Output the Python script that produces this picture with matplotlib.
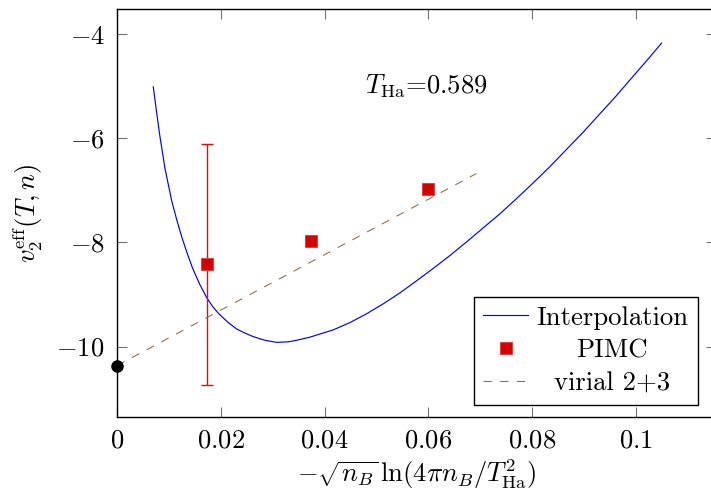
import numpy as np
import matplotlib
matplotlib.use("Agg")
import matplotlib.pyplot as plt

plt.rcParams["font.family"] = "serif"
plt.rcParams["font.serif"] = ["cmr10"]
plt.rcParams["mathtext.fontset"] = "cm"
plt.rcParams["axes.formatter.use_mathtext"] = True
plt.rcParams["axes.unicode_minus"] = True

# ---------------------------------------------------------------------------
# Data
# ---------------------------------------------------------------------------
interp_x = [0.00696, 0.00760, 0.00825, 0.00922, 0.01051, 0.01150, 0.01244,
            0.01350, 0.01456, 0.01590, 0.01726, 0.01840, 0.01950, 0.02130,
            0.02300, 0.02460, 0.02624, 0.02850, 0.03076, 0.03300, 0.03461,
            0.03718, 0.04167, 0.04490, 0.04811, 0.05130, 0.05453, 0.05770,
            0.06095, 0.06420, 0.06739, 0.07060, 0.07382, 0.07700, 0.08020,
            0.08340, 0.08660, 0.08980, 0.09300, 0.09620, 0.09940, 0.10220,
            0.10500]
interp_y = [-5.01, -5.50, -5.97, -6.58, -7.20, -7.57, -7.89,
            -8.21, -8.50, -8.80, -9.06, -9.23, -9.36, -9.53,
            -9.66, -9.74, -9.81, -9.88, -9.92, -9.91, -9.88,
            -9.82, -9.68, -9.54, -9.37, -9.18, -8.97, -8.74,
            -8.50, -8.25, -7.99, -7.72, -7.45, -7.16, -6.86,
            -6.55, -6.22, -5.89, -5.54, -5.19, -4.82, -4.50,
            -4.17]

pimc_x = [0.01725, 0.03731, 0.05987]
pimc_y = [-8.42, -7.975, -6.975]
err_x = [0.01725]
err_y = [-8.42]
err_size = [2.31]

virial_x = [0.0, 0.0693]
virial_y = [-10.365, -6.675]

dot_x = [0.0]
dot_y = [-10.365]

xticks = [0, 0.02, 0.04, 0.06, 0.08, 0.1]
xticklabels = ["0", "0.02", "0.04", "0.06", "0.08", "0.1"]
yticks = [-10, -8, -6, -4]

FS = 19.2

fig = plt.figure(figsize=(7.11, 4.95), dpi=100)
# right spine sits just outside the picture, as in the reference
ax = fig.add_axes([117.2 / 711, 1 - 417.3 / 495, (716 - 117.2) / 711, (417.3 - 9.3) / 495])

ax.plot(interp_x, interp_y, color="#0000ff", lw=0.85, label="Interpolation")
ax.errorbar(err_x, err_y, yerr=err_size, fmt="none", ecolor="#ff0000",
            elinewidth=1.0, capsize=4.5, capthick=1.0)
ax.plot(pimc_x, pimc_y, ls="none", marker="s", ms=8.2, mfc="#d20000",
        mec="#e84040", mew=0.8, label="PIMC")
ax.plot(virial_x, virial_y, color="#8c6a4a", lw=0.75, ls=(0, (8, 8)),
        label="virial 2+3")
ax.plot(dot_x, dot_y, ls="none", marker="o", ms=8, color="black",
        clip_on=False, zorder=5)

ax.set_xlim(0, 0.1155)
ax.set_ylim(-11.36, -3.52)
ax.set_xticks(xticks)
ax.set_xticklabels([r"$\mathdefault{%s}$" % t for t in xticklabels])
ax.set_yticks(yticks)
ax.tick_params(direction="in", length=7.5, width=0.8, color="0.45",
               top=True, right=True, labelsize=FS)
ax.tick_params(axis="x", pad=8)
ax.tick_params(axis="y", pad=9)
for s in ax.spines.values():
    s.set_linewidth(1.0)

ax.set_xlabel(r"$-\sqrt{n_B}\,\ln(4\pi n_B/T_{\rm Ha}^2)$", fontsize=FS, labelpad=4)
ax.set_ylabel(r"$v_2^{\rm eff}(T,n)$", fontsize=FS, labelpad=8)

ax.text(0.0597, -5.0, r"$T_{\rm Ha}$=0.589", fontsize=FS, ha="center", va="center")

leg = ax.legend(loc="lower right", bbox_to_anchor=(0.9694, 0.030), borderaxespad=0,
                fontsize=FS, fancybox=False, framealpha=1, edgecolor="black",
                handlelength=1.7, handletextpad=0.3, labelspacing=0.35,
                borderpad=0.35, numpoints=1)
leg.get_frame().set_linewidth(1.0)

# centre the legend labels in their column, as in the reference
fig.canvas.draw()
r = fig.canvas.get_renderer()
texts = leg.get_texts()
ws = [t.get_window_extent(r).width for t in texts]
for t, w in zip(texts, ws):
    t.set_x((max(ws) - w) / 2)

fig.savefig("out.png", dpi=100)
